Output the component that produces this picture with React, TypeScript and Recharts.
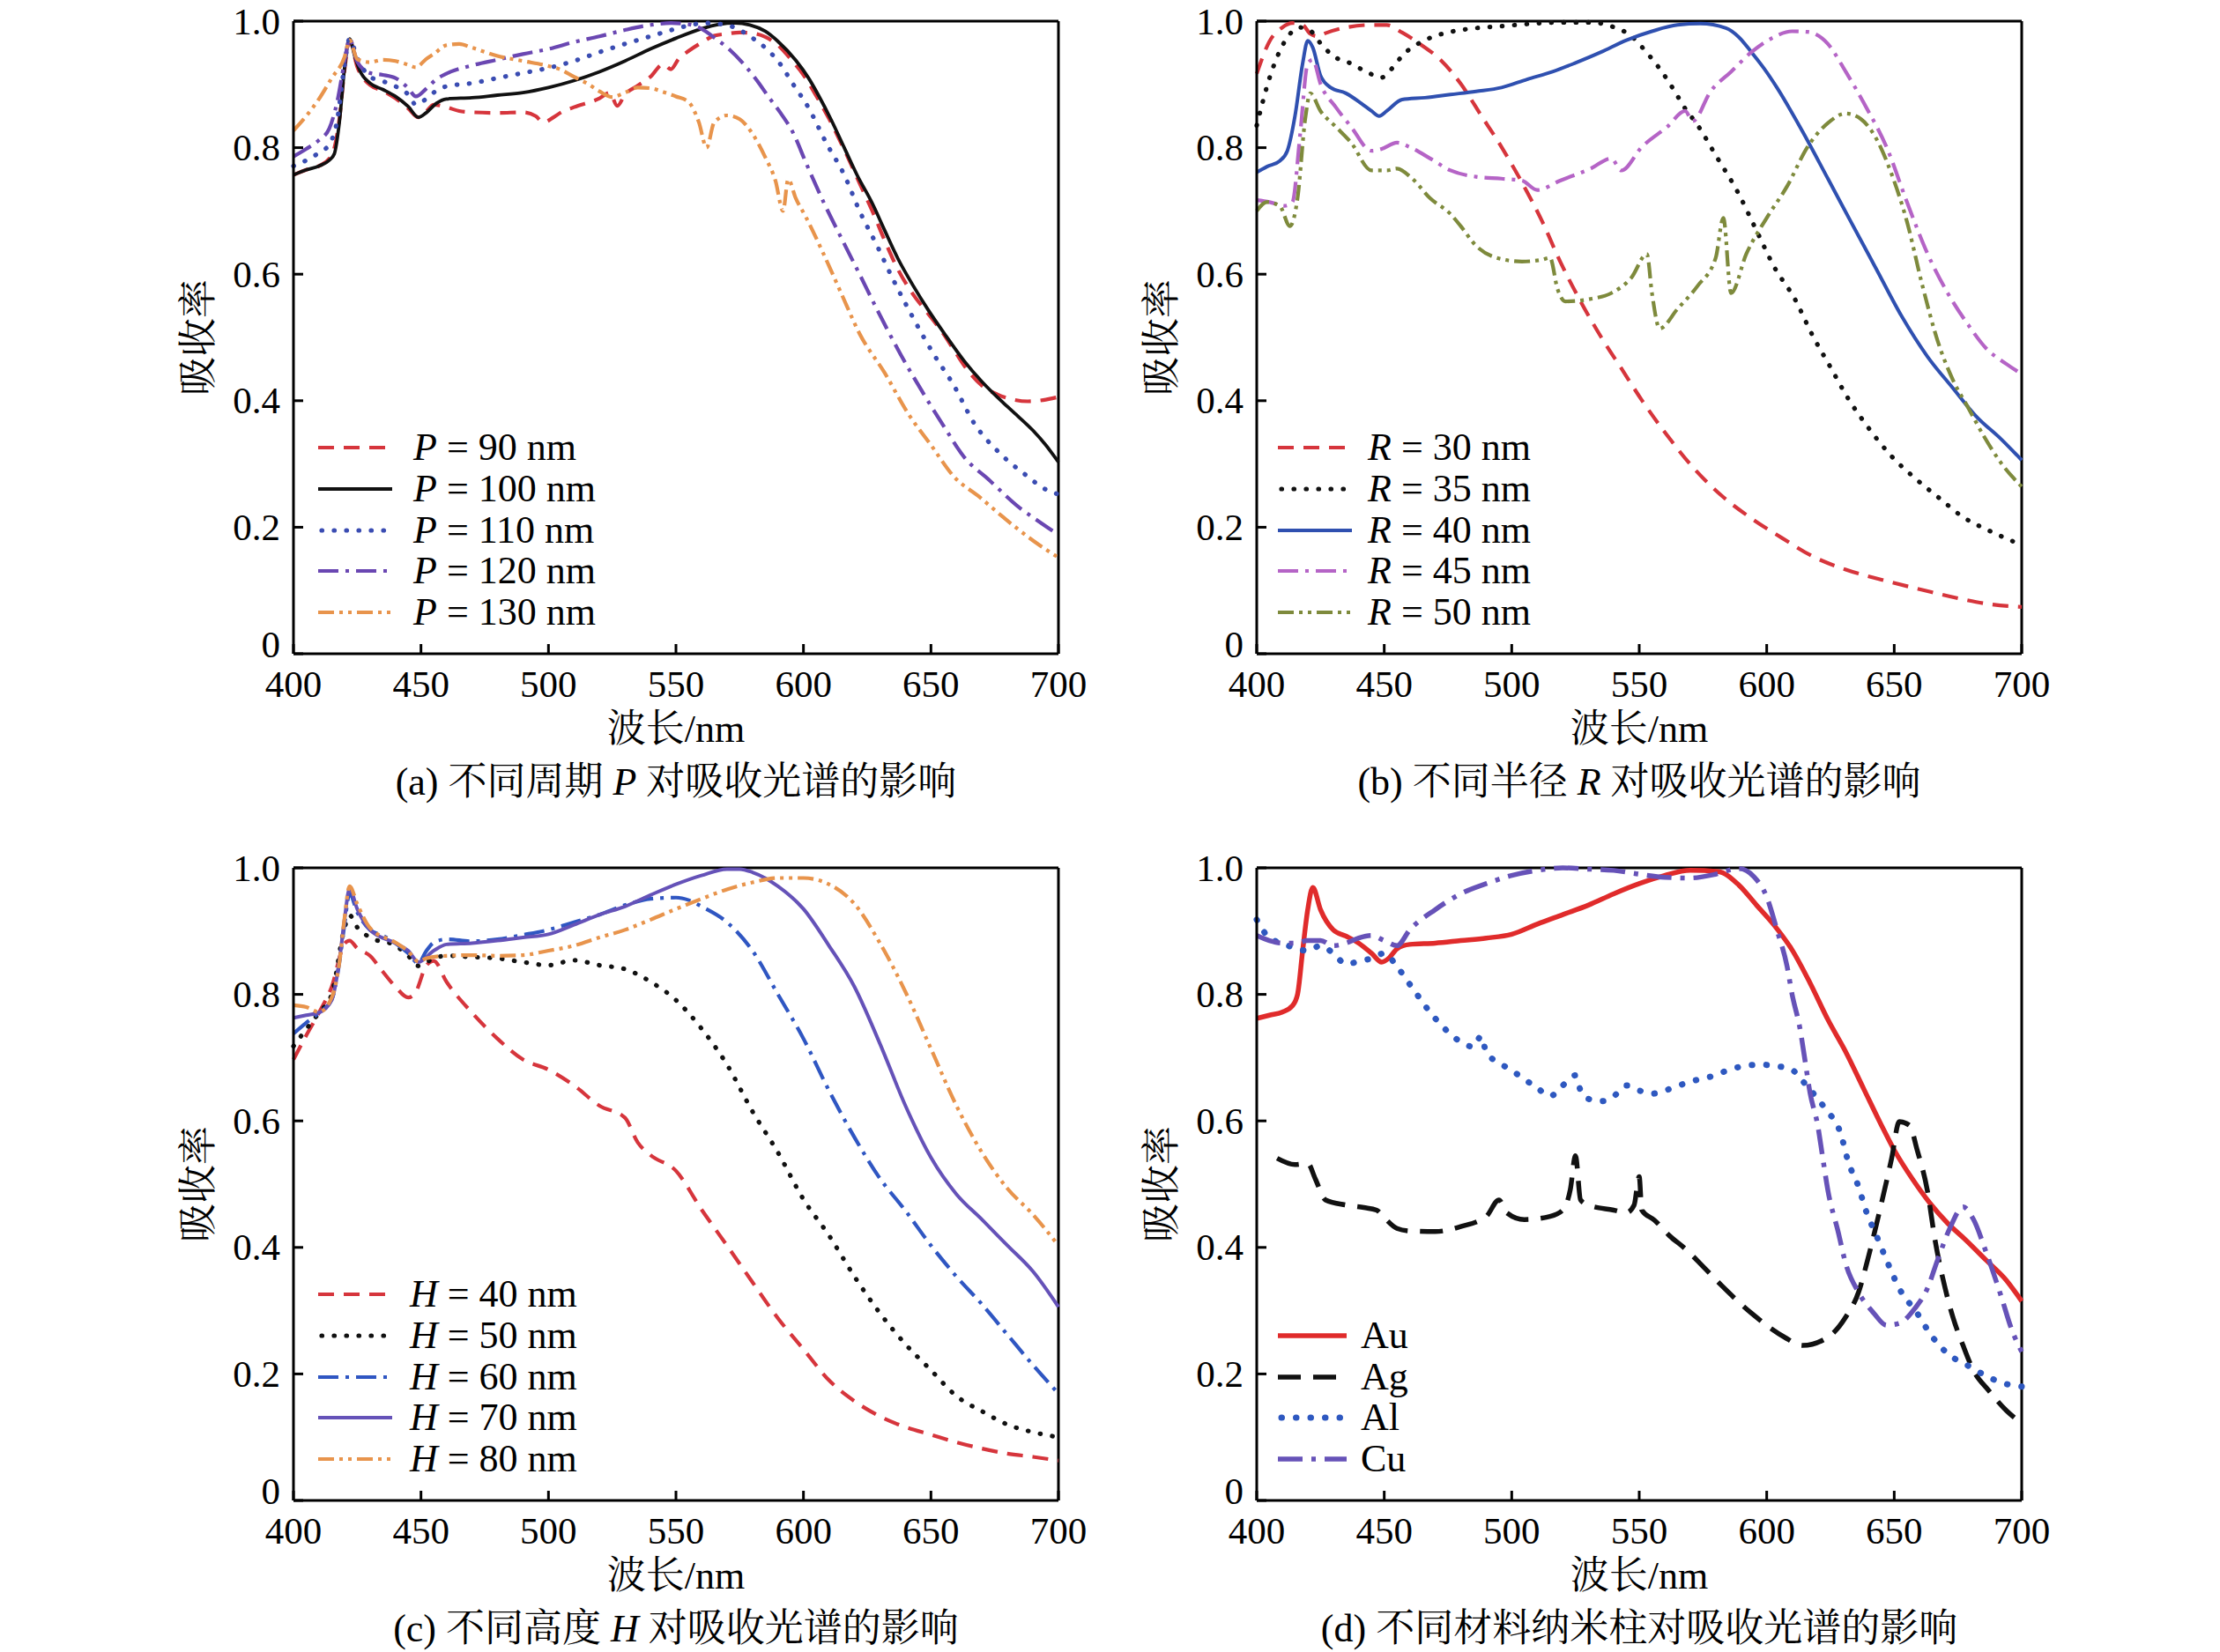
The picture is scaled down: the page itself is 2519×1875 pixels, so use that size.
import React from 'react';
import { LineChart, Line, XAxis, YAxis, ReferenceLine } from 'recharts';

type Pt = [number, number];

const WAVELENGTH_TICKS = [400, 450, 500, 550, 600, 650, 700];
const ABSORB_TICKS = [0, 0.2, 0.4, 0.6, 0.8, 1.0];

// ---------- (a) period P ----------
const P90: Pt[] = [[400,0.757],[405,0.765],[410,0.771],[415,0.788],[418,0.845],[420,0.922],[422,0.97],[425,0.928],[430,0.899],[435,0.89],[440,0.878],[445,0.862],[449,0.848],[452,0.857],[455,0.868],[460,0.864],[465,0.858],[470,0.856],[480,0.855],[490,0.856],[495,0.85],[498,0.84],[502,0.848],[505,0.856],[510,0.864],[520,0.878],[524,0.887],[527,0.866],[530,0.884],[535,0.898],[540,0.912],[545,0.932],[548,0.924],[551,0.94],[555,0.953],[560,0.966],[565,0.977],[570,0.98],[575,0.982],[580,0.981],[585,0.975],[590,0.962],[595,0.94],[600,0.915],[605,0.882],[610,0.846],[616,0.797],[622,0.744],[627,0.7],[632,0.652],[637,0.608],[643,0.568],[649,0.537],[655,0.505],[660,0.474],[665,0.445],[670,0.424],[676,0.41],[682,0.402],[688,0.399],[694,0.401],[700,0.406]];
const P100: Pt[] = [[400,0.757],[405,0.765],[410,0.771],[414,0.78],[416,0.79],[418,0.84],[420,0.925],[422,0.972],[424,0.945],[426,0.922],[430,0.902],[435,0.892],[440,0.881],[445,0.865],[449,0.848],[452,0.855],[456,0.87],[460,0.877],[470,0.879],[480,0.883],[490,0.887],[500,0.895],[510,0.906],[520,0.92],[530,0.937],[540,0.956],[550,0.973],[560,0.988],[567,0.995],[573,0.997],[579,0.994],[585,0.984],[590,0.968],[597,0.938],[602,0.91],[606,0.882],[611,0.843],[616,0.8],[621,0.757],[627,0.712],[632,0.668],[637,0.625],[643,0.582],[649,0.543],[656,0.502],[663,0.463],[670,0.43],[678,0.398],[684,0.376],[690,0.353],[695,0.33],[700,0.303]];
const P110: Pt[] = [[400,0.771],[405,0.78],[410,0.792],[414,0.805],[417,0.84],[420,0.93],[422,0.972],[425,0.942],[430,0.912],[435,0.905],[440,0.897],[445,0.884],[448,0.868],[452,0.877],[456,0.89],[460,0.897],[470,0.902],[480,0.91],[490,0.918],[500,0.926],[510,0.937],[520,0.951],[530,0.964],[540,0.976],[550,0.988],[557,0.995],[563,0.997],[568,0.995],[573,0.99],[579,0.976],[585,0.958],[590,0.937],[596,0.9],[602,0.863],[609,0.807],[616,0.757],[622,0.7],[629,0.644],[635,0.593],[643,0.531],[651,0.474],[659,0.424],[667,0.364],[677,0.317],[688,0.28],[694,0.262],[700,0.252]];
const P120: Pt[] = [[400,0.786],[405,0.798],[410,0.812],[414,0.83],[417,0.87],[420,0.935],[422,0.972],[425,0.936],[430,0.918],[435,0.915],[440,0.91],[445,0.894],[448,0.881],[452,0.893],[456,0.908],[460,0.917],[470,0.93],[480,0.939],[490,0.948],[500,0.956],[510,0.967],[520,0.976],[530,0.986],[540,0.994],[548,0.997],[555,0.995],[560,0.988],[565,0.974],[571,0.955],[577,0.93],[582,0.905],[586,0.882],[591,0.855],[596,0.823],[601,0.776],[608,0.713],[615,0.656],[622,0.6],[629,0.543],[638,0.474],[648,0.405],[655,0.36],[663,0.311],[673,0.274],[685,0.23],[692,0.21],[700,0.188]];
const P130: Pt[] = [[400,0.827],[405,0.85],[410,0.877],[415,0.91],[420,0.943],[422,0.97],[425,0.94],[430,0.935],[435,0.939],[440,0.937],[445,0.931],[448,0.927],[452,0.94],[455,0.948],[460,0.962],[465,0.964],[470,0.958],[480,0.945],[490,0.937],[500,0.929],[505,0.923],[510,0.912],[515,0.902],[520,0.889],[525,0.88],[530,0.887],[535,0.895],[540,0.894],[545,0.888],[550,0.881],[555,0.872],[559,0.84],[562,0.8],[565,0.84],[570,0.851],[575,0.845],[580,0.822],[585,0.785],[589,0.748],[592,0.7],[594,0.75],[597,0.72],[601,0.69],[608,0.631],[615,0.568],[622,0.506],[632,0.443],[641,0.38],[650,0.33],[659,0.28],[669,0.248],[678,0.217],[690,0.179],[700,0.152]];

// ---------- (b) radius R ----------
const R30: Pt[] = [[400,0.917],[405,0.968],[410,0.99],[414,0.997],[418,0.994],[421,0.98],[424,0.976],[427,0.981],[435,0.99],[445,0.994],[451,0.994],[457,0.982],[464,0.964],[472,0.939],[480,0.901],[488,0.851],[496,0.801],[504,0.745],[512,0.683],[519,0.62],[527,0.557],[535,0.501],[543,0.451],[551,0.401],[561,0.345],[571,0.295],[582,0.251],[594,0.214],[606,0.183],[618,0.154],[631,0.133],[645,0.117],[661,0.101],[677,0.086],[688,0.078],[700,0.074]];
const R35: Pt[] = [[400,0.835],[405,0.91],[411,0.968],[417,0.99],[421,0.985],[425,0.965],[430,0.945],[437,0.933],[443,0.92],[449,0.911],[453,0.925],[457,0.945],[466,0.97],[476,0.983],[486,0.989],[496,0.992],[508,0.996],[519,0.998],[531,0.998],[539,0.992],[547,0.976],[553,0.95],[558,0.925],[563,0.895],[568,0.862],[573,0.835],[580,0.788],[589,0.727],[596,0.669],[603,0.611],[611,0.561],[618,0.503],[625,0.453],[632,0.403],[639,0.362],[649,0.312],[658,0.278],[668,0.245],[677,0.216],[687,0.195],[700,0.172]];
const R40: Pt[] = [[400,0.761],[404,0.77],[409,0.779],[412,0.795],[415,0.85],[418,0.933],[420,0.969],[422,0.958],[425,0.914],[429,0.895],[435,0.886],[441,0.87],[445,0.858],[448,0.85],[451,0.858],[457,0.876],[466,0.879],[476,0.884],[486,0.889],[496,0.895],[506,0.908],[516,0.92],[525,0.934],[535,0.951],[545,0.97],[555,0.984],[565,0.994],[574,0.996],[584,0.989],[589,0.975],[594,0.951],[599,0.925],[604,0.895],[614,0.826],[624,0.751],[633,0.683],[643,0.608],[653,0.533],[663,0.47],[673,0.42],[682,0.376],[692,0.339],[700,0.306]];
const R45: Pt[] = [[400,0.717],[405,0.714],[411,0.708],[414,0.714],[417,0.82],[420,0.933],[422,0.939],[425,0.901],[431,0.864],[437,0.833],[445,0.795],[449,0.798],[455,0.808],[460,0.801],[468,0.783],[476,0.764],[486,0.754],[496,0.751],[504,0.748],[510,0.733],[519,0.748],[531,0.767],[539,0.783],[543,0.764],[551,0.801],[561,0.833],[568,0.858],[571,0.842],[578,0.889],[586,0.92],[594,0.951],[602,0.973],[610,0.984],[616,0.983],[624,0.964],[631,0.92],[639,0.864],[647,0.801],[655,0.714],[663,0.633],[671,0.57],[679,0.52],[686,0.483],[694,0.458],[700,0.442]];
const R50: Pt[] = [[400,0.7],[404,0.714],[409,0.708],[413,0.676],[416,0.72],[419,0.845],[421,0.886],[425,0.858],[431,0.833],[437,0.808],[445,0.764],[451,0.764],[455,0.767],[461,0.751],[468,0.72],[476,0.695],[480,0.676],[486,0.645],[494,0.626],[504,0.62],[512,0.623],[515,0.626],[518,0.576],[521,0.557],[531,0.561],[539,0.57],[547,0.595],[553,0.632],[555,0.57],[558,0.514],[565,0.545],[573,0.582],[580,0.626],[583,0.689],[586,0.57],[592,0.632],[600,0.689],[608,0.739],[616,0.801],[624,0.839],[631,0.854],[637,0.845],[643,0.814],[649,0.758],[655,0.683],[661,0.583],[667,0.495],[673,0.433],[679,0.389],[685,0.345],[692,0.301],[700,0.264]];

// ---------- (c) height H ----------
const H40: Pt[] = [[400,0.697],[405,0.735],[410,0.771],[415,0.812],[420,0.88],[422,0.885],[425,0.873],[430,0.861],[435,0.836],[440,0.812],[445,0.795],[448,0.804],[452,0.845],[455,0.853],[460,0.82],[470,0.771],[480,0.73],[490,0.697],[500,0.681],[510,0.656],[520,0.624],[530,0.605],[535,0.566],[540,0.546],[550,0.521],[560,0.46],[570,0.403],[580,0.345],[590,0.288],[600,0.239],[610,0.19],[620,0.157],[630,0.133],[640,0.116],[650,0.104],[660,0.092],[670,0.082],[680,0.074],[690,0.069],[700,0.063]];
const H50: Pt[] = [[400,0.718],[405,0.745],[410,0.771],[415,0.8],[420,0.905],[422,0.925],[425,0.906],[430,0.89],[440,0.877],[445,0.861],[449,0.845],[455,0.857],[460,0.861],[470,0.859],[480,0.857],[490,0.851],[500,0.846],[510,0.854],[520,0.846],[530,0.84],[540,0.82],[550,0.791],[560,0.746],[570,0.689],[580,0.615],[590,0.55],[600,0.476],[610,0.419],[620,0.354],[630,0.296],[640,0.247],[650,0.206],[660,0.165],[670,0.141],[680,0.12],[690,0.108],[700,0.1]];
const H60: Pt[] = [[400,0.738],[405,0.755],[410,0.771],[415,0.792],[418,0.85],[420,0.91],[422,0.959],[425,0.93],[430,0.902],[435,0.893],[440,0.881],[445,0.865],[449,0.849],[452,0.868],[455,0.882],[460,0.887],[470,0.884],[480,0.887],[490,0.894],[500,0.902],[510,0.914],[520,0.926],[530,0.941],[540,0.951],[550,0.953],[555,0.949],[560,0.939],[570,0.914],[580,0.869],[590,0.8],[600,0.73],[610,0.648],[620,0.574],[630,0.509],[640,0.458],[650,0.403],[660,0.354],[670,0.31],[680,0.262],[690,0.214],[700,0.169]];
const H70: Pt[] = [[400,0.763],[405,0.767],[410,0.771],[415,0.791],[418,0.853],[420,0.918],[422,0.967],[425,0.935],[430,0.902],[440,0.881],[445,0.869],[449,0.851],[455,0.869],[460,0.879],[470,0.881],[480,0.885],[490,0.89],[500,0.895],[510,0.91],[520,0.926],[530,0.939],[540,0.957],[550,0.974],[560,0.988],[570,0.998],[575,0.998],[580,0.993],[590,0.971],[600,0.935],[610,0.877],[620,0.812],[630,0.722],[640,0.624],[650,0.542],[660,0.484],[670,0.444],[680,0.403],[690,0.362],[700,0.306]];
const H80: Pt[] = [[400,0.783],[405,0.78],[410,0.772],[415,0.795],[418,0.85],[420,0.92],[422,0.971],[425,0.943],[430,0.905],[440,0.882],[445,0.868],[449,0.852],[452,0.857],[460,0.861],[470,0.862],[480,0.861],[490,0.862],[500,0.869],[510,0.877],[520,0.89],[530,0.902],[540,0.918],[550,0.935],[560,0.951],[570,0.966],[580,0.977],[590,0.984],[600,0.984],[610,0.974],[620,0.943],[630,0.881],[640,0.804],[650,0.714],[660,0.624],[670,0.55],[680,0.493],[690,0.452],[700,0.403]];

// ---------- (d) material ----------
const AU: Pt[] = [[400,0.762],[405,0.767],[410,0.772],[414,0.782],[416,0.8],[418,0.869],[420,0.934],[422,0.969],[425,0.934],[430,0.902],[435,0.892],[440,0.881],[445,0.865],[449,0.851],[452,0.858],[455,0.872],[460,0.879],[470,0.881],[480,0.885],[490,0.889],[500,0.895],[510,0.911],[520,0.926],[530,0.941],[540,0.959],[550,0.975],[560,0.988],[570,0.996],[581,0.994],[589,0.973],[596,0.941],[603,0.909],[610,0.87],[617,0.818],[624,0.76],[631,0.709],[638,0.651],[645,0.593],[650,0.554],[657,0.509],[664,0.47],[671,0.438],[678,0.412],[686,0.38],[694,0.348],[700,0.315]];
const AG: Pt[] = [[408,0.541],[415,0.531],[420,0.533],[423,0.508],[427,0.475],[435,0.467],[442,0.463],[447,0.459],[450,0.447],[455,0.43],[460,0.426],[470,0.425],[480,0.433],[490,0.449],[495,0.475],[498,0.455],[505,0.444],[515,0.449],[520,0.459],[523,0.492],[525,0.545],[527,0.475],[530,0.467],[540,0.459],[545,0.455],[548,0.467],[550,0.512],[551,0.459],[556,0.443],[562,0.418],[568,0.398],[575,0.37],[582,0.341],[594,0.296],[607,0.258],[614,0.245],[624,0.258],[631,0.29],[636,0.329],[640,0.387],[645,0.47],[649,0.541],[652,0.599],[656,0.593],[659,0.554],[663,0.49],[666,0.412],[670,0.335],[673,0.29],[677,0.245],[681,0.206],[687,0.174],[694,0.142],[700,0.122]];
const AL: Pt[] = [[400,0.918],[405,0.889],[410,0.881],[415,0.873],[420,0.869],[425,0.877],[430,0.865],[435,0.848],[440,0.852],[445,0.857],[450,0.865],[455,0.844],[460,0.816],[470,0.762],[480,0.725],[485,0.717],[488,0.734],[490,0.709],[500,0.68],[510,0.652],[515,0.639],[520,0.656],[525,0.672],[527,0.648],[530,0.635],[535,0.631],[540,0.639],[545,0.656],[550,0.648],[555,0.643],[560,0.648],[570,0.662],[578,0.67],[587,0.683],[597,0.689],[605,0.686],[609,0.683],[616,0.654],[623,0.619],[629,0.58],[632,0.535],[636,0.496],[639,0.457],[643,0.419],[647,0.38],[652,0.335],[659,0.296],[664,0.264],[671,0.232],[679,0.213],[688,0.193],[694,0.184],[700,0.18]];
const CU: Pt[] = [[400,0.893],[405,0.885],[410,0.881],[415,0.881],[420,0.885],[425,0.885],[430,0.877],[435,0.881],[440,0.889],[445,0.893],[450,0.885],[455,0.877],[460,0.902],[470,0.934],[480,0.959],[490,0.975],[500,0.988],[510,0.996],[520,1.0],[530,0.998],[540,0.996],[550,0.99],[560,0.985],[570,0.984],[580,0.99],[589,0.999],[595,0.986],[600,0.954],[604,0.902],[608,0.844],[610,0.799],[613,0.747],[615,0.696],[617,0.644],[620,0.593],[622,0.541],[624,0.49],[628,0.425],[631,0.374],[636,0.329],[642,0.296],[647,0.277],[652,0.28],[658,0.303],[663,0.335],[667,0.38],[672,0.432],[677,0.464],[681,0.445],[686,0.393],[692,0.322],[696,0.271],[700,0.235]];

const SERIF = "'Liberation Serif', 'Times New Roman', 'Noto Serif CJK SC', 'Noto Sans CJK SC', serif";
const FS = 43;

interface SeriesDef {
  key: string;
  label: React.ReactNode;
  data: Pt[];
  color: string;
  dash?: string;
  width: number;
  cap?: 'round' | 'butt';
}

const DASH = '18 11';
const DOT = '0.5 13.5';
const DASHDOT = '23 8 4 8';
const DASHDOTDOT = '18 6 4 6 4 6';

const lbl = (sym: string, val: string) => (
  <span><i>{sym}</i> = {val} nm</span>
);

const SERIES_A: SeriesDef[] = [
  { key: 'p90', label: lbl('P', '90'), data: P90, color: '#d6353c', dash: DASH, width: 4.2 },
  { key: 'p100', label: lbl('P', '100'), data: P100, color: '#111111', width: 3.8 },
  { key: 'p110', label: lbl('P', '110'), data: P110, color: '#3a4cb2', dash: DOT, width: 5.2, cap: 'round' },
  { key: 'p120', label: lbl('P', '120'), data: P120, color: '#6a47b2', dash: DASHDOT, width: 4.2 },
  { key: 'p130', label: lbl('P', '130'), data: P130, color: '#e8944c', dash: DASHDOTDOT, width: 4.2 },
];
const SERIES_B: SeriesDef[] = [
  { key: 'r30', label: lbl('R', '30'), data: R30, color: '#d6353c', dash: DASH, width: 4.2 },
  { key: 'r35', label: lbl('R', '35'), data: R35, color: '#111111', dash: DOT, width: 5.2, cap: 'round' },
  { key: 'r40', label: lbl('R', '40'), data: R40, color: '#2f50b0', width: 4 },
  { key: 'r45', label: lbl('R', '45'), data: R45, color: '#b564c6', dash: DASHDOT, width: 4.2 },
  { key: 'r50', label: lbl('R', '50'), data: R50, color: '#7e8a3c', dash: DASHDOTDOT, width: 4.2 },
];
const SERIES_C: SeriesDef[] = [
  { key: 'h40', label: lbl('H', '40'), data: H40, color: '#d6353c', dash: DASH, width: 4.2 },
  { key: 'h50', label: lbl('H', '50'), data: H50, color: '#111111', dash: DOT, width: 5.2, cap: 'round' },
  { key: 'h60', label: lbl('H', '60'), data: H60, color: '#2f56c2', dash: DASHDOT, width: 4.2 },
  { key: 'h70', label: lbl('H', '70'), data: H70, color: '#6552b8', width: 4 },
  { key: 'h80', label: lbl('H', '80'), data: H80, color: '#e8944c', dash: DASHDOTDOT, width: 4.2 },
];
const SERIES_D: SeriesDef[] = [
  { key: 'au', label: 'Au', data: AU, color: '#e02b2b', width: 5.5 },
  { key: 'ag', label: 'Ag', data: AG, color: '#111111', dash: '26 14', width: 5.5 },
  { key: 'al', label: 'Al', data: AL, color: '#2e58c0', dash: '0.5 16', width: 7, cap: 'round' },
  { key: 'cu', label: 'Cu', data: CU, color: '#6652b8', dash: '28 10 5 10', width: 5.5 },
];

const PW = 868;
const PH = 718;

const fmtY = (v: number) => (v === 0 ? '0' : v.toFixed(1));

function YTick(props: any) {
  const { x, y, payload } = props;
  const v = payload.value as number;
  return (
    <text x={x} y={y + (v === 0 ? -11 : 0)} dy="0.34em" textAnchor="end" fill="#000" fontSize={FS} fontFamily={SERIF}>
      {fmtY(v)}
    </text>
  );
}

interface PanelProps {
  plotL: number;
  plotT: number;
  series: SeriesDef[];
  caption: React.ReactNode;
  legendStartRow: number;
  legendLine: [number, number];
  legendText: number;
}

function Panel({ plotL, plotT, series, caption, legendStartRow, legendLine, legendText }: PanelProps) {
  const ML = 220;
  const MT = 30;
  const MR = 40;
  const MB = 90;
  const cx = plotL + PW / 2;
  const rowOffsets = [484, 531, 578, 624, 671];
  return (
    <>
      <div style={{ position: 'absolute', left: plotL - ML, top: plotT - MT }}>
        <LineChart width={PW + ML + MR} height={PH + MT + MB} margin={{ top: MT, right: MR, left: ML - 120, bottom: MB - 60 }}>
          <XAxis
            type="number"
            dataKey="x"
            domain={[400, 700]}
            ticks={WAVELENGTH_TICKS}
            interval={0}
            height={60}
            tickSize={-11}
            tickMargin={29}
            tick={{ fill: '#000', fontSize: FS, fontFamily: SERIF }}
            axisLine={{ stroke: '#000', strokeWidth: 3 }}
            tickLine={{ stroke: '#000', strokeWidth: 3 }}
          />
          <YAxis
            type="number"
            domain={[0, 1]}
            ticks={ABSORB_TICKS}
            interval={0}
            width={120}
            tickSize={-11}
            tickMargin={26}
            tick={<YTick />}
            axisLine={{ stroke: '#000', strokeWidth: 3 }}
            tickLine={{ stroke: '#000', strokeWidth: 3 }}
          />
          <ReferenceLine y={1} stroke="#000" strokeWidth={3} />
          <ReferenceLine x={700} stroke="#000" strokeWidth={3} />
          {series.map((s) => (
            <Line
              key={s.key}
              data={s.data.map(([x, y]) => ({ x, y }))}
              dataKey="y"
              type="monotone"
              stroke={s.color}
              strokeWidth={s.width}
              strokeDasharray={s.dash}
              strokeLinecap={s.cap || 'butt'}
              dot={false}
              activeDot={false}
              isAnimationActive={false}
            />
          ))}
        </LineChart>
      </div>
      {/* y-axis title */}
      <div
        style={{
          position: 'absolute',
          left: plotL - 107 - 150,
          top: plotT + PH / 2 - 30,
          width: 300,
          height: 60,
          lineHeight: '60px',
          textAlign: 'center',
          fontFamily: SERIF,
          fontSize: 44,
          transform: 'rotate(-90deg)',
          color: '#000',
        }}
      >
        吸收率
      </div>
      {/* x-axis title */}
      <div
        style={{
          position: 'absolute',
          left: cx - 300,
          top: plotT + PH + 86 - 30,
          width: 600,
          height: 60,
          lineHeight: '60px',
          textAlign: 'center',
          fontFamily: SERIF,
          fontSize: 44,
          color: '#000',
        }}
      >
        波长/nm
      </div>
      {/* caption */}
      <div
        style={{
          position: 'absolute',
          left: cx - 600,
          top: plotT + PH + 146 - 30,
          width: 1200,
          height: 60,
          lineHeight: '60px',
          textAlign: 'center',
          fontFamily: SERIF,
          fontSize: 44,
          color: '#000',
          whiteSpace: 'nowrap',
        }}
      >
        {caption}
      </div>
      {/* legend */}
      {series.map((s, i) => {
        const cy = plotT + rowOffsets[legendStartRow + i];
        return (
          <React.Fragment key={s.key + '-lg'}>
            <svg
              style={{ position: 'absolute', left: plotL + legendLine[0], top: cy - 8 }}
              width={legendLine[1] - legendLine[0]}
              height={16}
            >
              <line
                x1={s.cap === 'round' ? 4 : 0}
                y1={8}
                x2={legendLine[1] - legendLine[0]}
                y2={8}
                stroke={s.color}
                strokeWidth={s.width}
                strokeDasharray={s.dash}
                strokeLinecap={s.cap || 'butt'}
              />
            </svg>
            <div
              style={{
                position: 'absolute',
                left: plotL + legendText,
                top: cy - 25,
                height: 50,
                lineHeight: '50px',
                fontFamily: SERIF,
                fontSize: 44,
                color: '#000',
                whiteSpace: 'nowrap',
              }}
            >
              {s.label}
            </div>
          </React.Fragment>
        );
      })}
    </>
  );
}

export default function App() {
  return (
    <div style={{ position: 'absolute', left: 0, top: 0, width: 2519, height: 1875, background: '#fff', overflow: 'hidden' }}>
      <Panel
        plotL={333}
        plotT={24}
        series={SERIES_A}
        caption={<span>(a) 不同周期 <i>P</i> 对吸收光谱的影响</span>}
        legendStartRow={0}
        legendLine={[28, 112]}
        legendText={136}
      />
      <Panel
        plotL={1426}
        plotT={24}
        series={SERIES_B}
        caption={<span>(b) 不同半径 <i>R</i> 对吸收光谱的影响</span>}
        legendStartRow={0}
        legendLine={[24, 108]}
        legendText={126}
      />
      <Panel
        plotL={333}
        plotT={985}
        series={SERIES_C}
        caption={<span>(c) 不同高度 <i>H</i> 对吸收光谱的影响</span>}
        legendStartRow={0}
        legendLine={[28, 112]}
        legendText={132}
      />
      <Panel
        plotL={1426}
        plotT={985}
        series={SERIES_D}
        caption={<span>(d) 不同材料纳米柱对吸收光谱的影响</span>}
        legendStartRow={1}
        legendLine={[24, 102]}
        legendText={118}
      />
    </div>
  );
}
